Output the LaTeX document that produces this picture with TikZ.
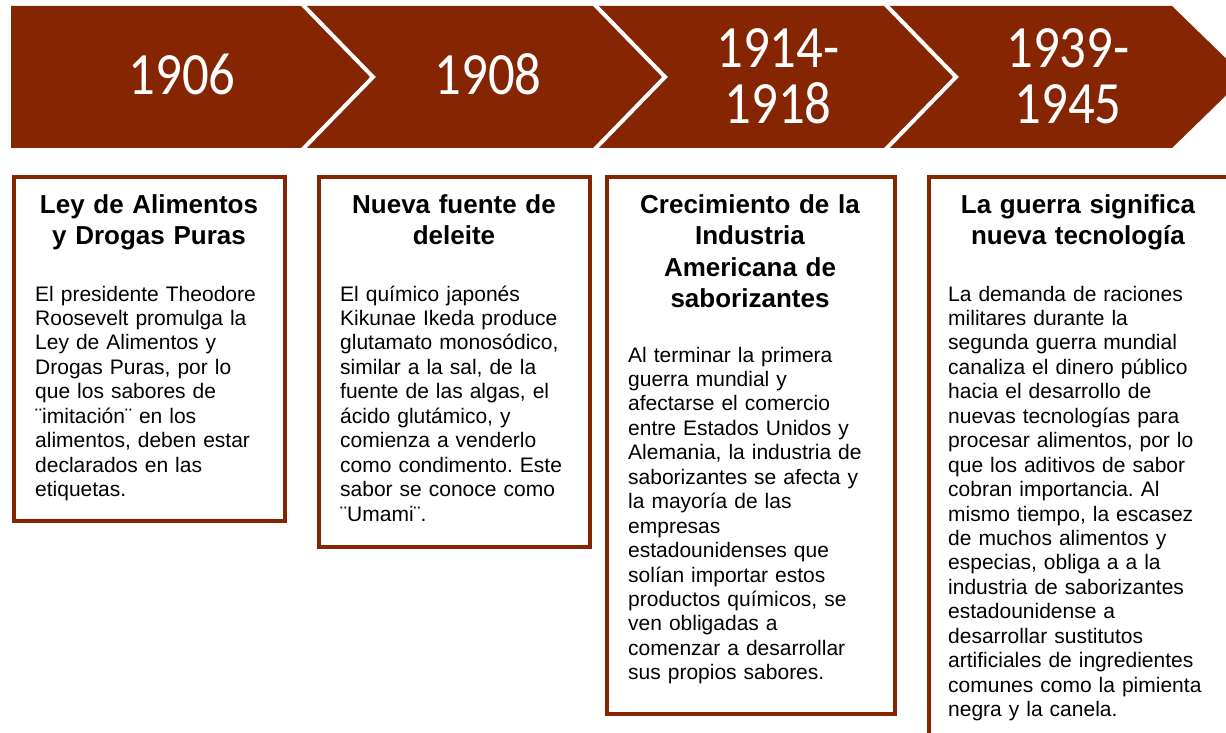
\documentclass[tikz,border=0pt]{standalone}
\usepackage{fontspec}
\setmainfont{Liberation Sans}
\newfontfamily\yearfont[FakeStretch=0.88]{Carlito}
\definecolor{brick}{RGB}{134,37,2}
\frenchspacing
\begin{document}
\begin{tikzpicture}[x=1pt,y=-1pt,
  year/.style={text=white, font=\yearfont\fontsize{60}{56}\selectfont, inner sep=0, text width=220pt, align=center, anchor=base},
  ttl/.style={font=\bfseries\fontsize{26}{31.5}\selectfont, inner sep=0, text width=270pt, align=center, anchor=base},
  body/.style={font=\fontsize{21}{24.45}\selectfont, inner sep=0, text width=270pt, align=left, anchor=base west},
  frame/.style={draw=brick, line width=4pt},
  sep/.style={draw=white, line width=4pt, line join=miter}]
\useasboundingbox (0,0) rectangle (1226,733);
% band
\fill[brick] (11,6) -- (1172,6) -- (1245,77) -- (1172,148) -- (11,148) -- cycle;
\foreach \x in {303,595,886}{
  \draw[sep] (\x-1,4) -- (\x+70,77) -- (\x-1,150);
}
% years
\node[year] (y1) at (182,95) {1906};
\node[year] (y2) at (488,95) {1908};
\node[year] (y3) at (778,67.5) {1914-\\1918};
\node[year] (y4) at (1068,67.5) {1939-\\1945};
% frames
\draw[frame] (14,177) rectangle (285,521);
\draw[frame] (319,177) rectangle (590,547);
\draw[frame] (607,177) rectangle (895,714);
\draw[frame] (1232,177) -- (929,177) -- (929,740);
% titles
\node[ttl] (t1) at (149,213) {Ley de Alimentos\\y Drogas Puras};
\node[ttl] (t2) at (454,213) {Nueva fuente de\\deleite};
\node[ttl] (t3) at (750,213) {Crecimiento de la\\Industria\\Americana de\\saborizantes};
\node[ttl] (t4) at (1078,213) {La guerra significa\\nueva tecnología};
% bodies
\node[body] (b1) at (35,301) {El presidente Theodore\\Roosevelt promulga la\\Ley de Alimentos y\\Drogas Puras, por lo\\que los sabores de\\¨imitación¨ en los\\alimentos, deben estar\\declarados en las\\etiquetas.};
\node[body] (b2) at (340,301) {El químico japonés\\Kikunae Ikeda produce\\glutamato monosódico,\\similar a la sal, de la\\fuente de las algas, el\\ácido glutámico, y\\comienza a venderlo\\como condimento. Este\\sabor se conoce como\\¨Umami¨.};
\node[body] (b3) at (628,362) {Al terminar la primera\\guerra mundial y\\afectarse el comercio\\entre Estados Unidos y\\Alemania, la industria de\\saborizantes se afecta y\\la mayoría de las\\empresas\\estadounidenses que\\solían importar estos\\productos químicos, se\\ven obligadas a\\comenzar a desarrollar\\sus propios sabores.};
\node[body] (b4) at (948,301) {La demanda de raciones\\militares durante la\\segunda guerra mundial\\canaliza el dinero público\\hacia el desarrollo de\\nuevas tecnologías para\\procesar alimentos, por lo\\que los aditivos de sabor\\cobran importancia. Al\\mismo tiempo, la escasez\\de muchos alimentos y\\especias, obliga a a la\\industria de saborizantes\\estadounidense a\\desarrollar sustitutos\\artificiales de ingredientes\\comunes como la pimienta\\negra y la canela.};
\end{tikzpicture}
\end{document}
